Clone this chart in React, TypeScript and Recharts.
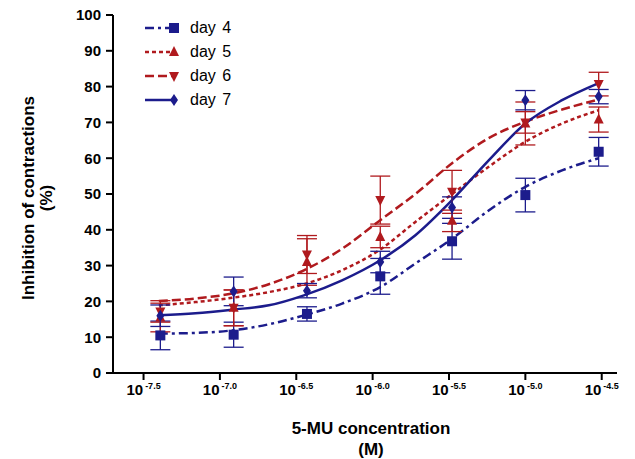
import React from "react"
import { ComposedChart, Line, Scatter, ErrorBar, XAxis, YAxis, Label } from "recharts"

const BLUE = "#1c1c8c"
const RED = "#b01a1e"
const FONT = "'Liberation Sans', Arial, sans-serif"

// log10 of molar concentration (3-fold dilutions)
const conc = [-7.39, -6.91, -6.43, -5.95, -5.48, -5.0, -4.52]
const xTicks = [-7.5, -7.0, -6.5, -6.0, -5.5, -5.0, -4.5]
const yTicks = [0, 10, 20, 30, 40, 50, 60, 70, 80, 90, 100]

const day4Mean = [10.5, 10.7, 16.5, 27, 36.8, 49.7, 61.8]
const day4Sem = [4, 3.5, 2, 5, 5, 4.7, 4]
const day5Mean = [15.5, 18.2, 31, 38, 42.5, 69.7, 70.8]
const day5Sem = [4, 5, 6.5, 3, 3, 6, 3.5]
const day6Mean = [17.2, 18.2, 33.1, 48.3, 50.6, 70, 80.7]
const day6Sem = [3, 5, 5.3, 6.7, 6, 3, 3.3]
const day7Mean = [16, 22.8, 23, 31, 46.2, 76.2, 77.2]
const day7Sem = [3, 4, 2, 3, 3, 2.7, 2]

// fitted curves
const curveX = [-7.4, -7.16, -6.92, -6.68, -6.45, -6.2, -5.95, -5.72, -5.48, -5.24, -5.0, -4.76, -4.52]
const day4Fit = [11, 11.2, 11.9, 13.6, 16.1, 19.4, 24, 30.6, 37.5, 45.4, 52, 56.6, 60]
const day5Fit = [18.9, 19.8, 21, 22.6, 24.8, 28.7, 34.5, 42.2, 50, 57.6, 64.6, 69.7, 73.4]
const day6Fit = [20.1, 20.8, 22.2, 24.8, 28.7, 34.7, 42.7, 50, 58.6, 65.6, 70.2, 73.6, 76.4]
const day7Fit = [16.1, 16.7, 17.7, 18.9, 21.7, 25.9, 31.5, 38.5, 48.3, 59.4, 69.7, 76.2, 81]

const points = (mean: number[], sem: number[]) => conc.map((x, i) => ({ x, y: mean[i], err: sem[i] }))
const curve = (vals: number[]) => curveX.map((x, i) => ({ x, y: vals[i] }))

const series = [
  { name: "day 4", color: BLUE, kind: "square", dash: "9 4 3 4", pts: points(day4Mean, day4Sem), fit: curve(day4Fit) },
  { name: "day 5", color: RED, kind: "up", dash: "4 3", pts: points(day5Mean, day5Sem), fit: curve(day5Fit) },
  { name: "day 6", color: RED, kind: "down", dash: "9 4", pts: points(day6Mean, day6Sem), fit: curve(day6Fit) },
  { name: "day 7", color: BLUE, kind: "diamond", dash: undefined, pts: points(day7Mean, day7Sem), fit: curve(day7Fit) },
]

function Marker({ cx, cy, kind, color }: any) {
  if (cx == null || cy == null) return null
  const s = 5
  if (kind === "square") return <rect x={cx - s} y={cy - s} width={2 * s} height={2 * s} fill={color} />
  if (kind === "up") return <polygon points={`${cx},${cy - s - 1} ${cx - s},${cy + s - 1} ${cx + s},${cy + s - 1}`} fill={color} />
  if (kind === "down") return <polygon points={`${cx},${cy + s + 1} ${cx - s},${cy - s + 1} ${cx + s},${cy - s + 1}`} fill={color} />
  return <polygon points={`${cx},${cy - s - 1} ${cx + s - 1},${cy} ${cx},${cy + s + 1} ${cx - s + 1},${cy}`} fill={color} />
}

const XTick = ({ x, y, payload }: any) => (
  <text x={x} y={y + 13} textAnchor="middle" fontFamily={FONT} fontWeight="bold" fill="#000">
    <tspan fontSize={15}>10</tspan>
    <tspan fontSize={9} dy={-6} dx={2}>{payload.value.toFixed(1)}</tspan>
  </text>
)

const ChartLegend = () => (
  <div style={{ position: "absolute", left: 142, top: 16, fontFamily: FONT, fontSize: 16 }}>
    {series.map((s) => (
      <div key={s.name} style={{ display: "flex", alignItems: "center", height: 24 }}>
        <svg width={48} height={16}>
          <line x1={3} y1={8} x2={32} y2={8} stroke={s.color} strokeWidth={2.5} strokeDasharray={s.dash} />
          <Marker cx={32} cy={8} kind={s.kind} color={s.color} />
        </svg>
        <span style={{ color: "#000", wordSpacing: 2 }}>{s.name}</span>
      </div>
    ))}
  </div>
)

const YTitle = () => (
  <g fontFamily={FONT} fontWeight="bold" fontSize={17} fill="#000">
    <text transform="translate(34,198) rotate(-90)" textAnchor="middle">Inhibition of contractions</text>
    <text transform="translate(52,198) rotate(-90)" textAnchor="middle">(%)</text>
  </g>
)

const XTitle = () => (
  <g fontFamily={FONT} fontWeight="bold" fontSize={17} fill="#000">
    <text x={371} y={434} textAnchor="middle">5-MU concentration</text>
    <text x={371} y={455} textAnchor="middle">(M)</text>
  </g>
)

export default function App() {
  return (
    <div style={{ position: "absolute", left: 0, top: 0, width: 635, height: 459, background: "#fff" }}>
      <ComposedChart width={635} height={459} margin={{ top: 15, right: 18, bottom: 56, left: 43 }}>
        <XAxis
          type="number"
          dataKey="x"
          height={30}
          domain={[-7.7, -4.4]}
          ticks={xTicks}
          allowDataOverflow
          tick={<XTick />}
          tickSize={7}
          axisLine={{ stroke: "#000", strokeWidth: 2 }}
          tickLine={{ stroke: "#000", strokeWidth: 2 }}
        >
          <Label content={<XTitle />} />
        </XAxis>
        <YAxis
          type="number"
          dataKey="y"
          width={70}
          domain={[0, 100]}
          ticks={yTicks}
          interval={0}
          tickSize={7}
          tickMargin={5}
          tick={{ fontFamily: FONT, fontWeight: "bold", fontSize: 15, fill: "#000" }}
          axisLine={{ stroke: "#000", strokeWidth: 2 }}
          tickLine={{ stroke: "#000", strokeWidth: 2 }}
        >
          <Label content={<YTitle />} />
        </YAxis>
        {series.map((s) => (
          <Line
            key={s.name + "fit"}
            data={s.fit}
            dataKey="y"
            type="monotone"
            stroke={s.color}
            strokeWidth={2.5}
            strokeDasharray={s.dash}
            dot={false}
            activeDot={false}
            isAnimationActive={false}
          />
        ))}
        {series.map((s) => (
          <Scatter
            key={s.name}
            name={s.name}
            data={s.pts}
            dataKey="y"
            isAnimationActive={false}
            shape={(p: any) => <Marker cx={p.cx} cy={p.cy} kind={s.kind} color={s.color} />}
          >
            <ErrorBar dataKey="err" direction="y" width={10} stroke={s.color} strokeWidth={1.3} />
          </Scatter>
        ))}
      </ComposedChart>
      <ChartLegend />
    </div>
  )
}
